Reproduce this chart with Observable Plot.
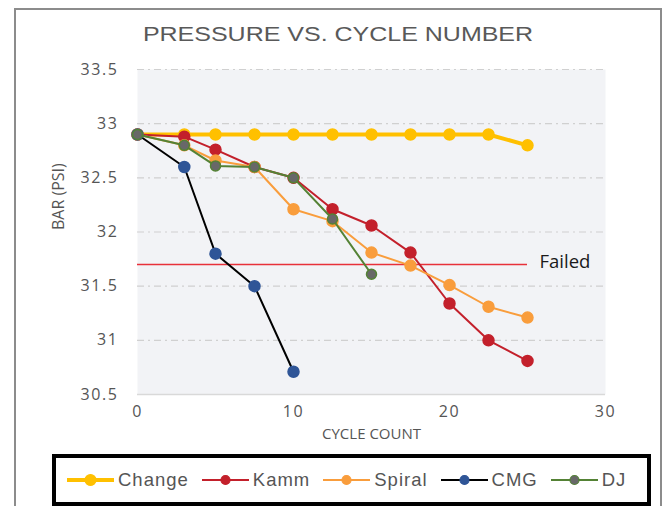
<!DOCTYPE html>
<html><head><meta charset="utf-8">
<script src="https://cdn.jsdelivr.net/npm/d3@7"></script>
<script src="https://cdn.jsdelivr.net/npm/@observablehq/plot@0.6"></script>
<style>
html,body{margin:0;padding:0;background:#fff;}
body{width:665px;height:506px;overflow:hidden;position:relative;font-family:"Liberation Sans",Arial,sans-serif;}
#frame{position:absolute;left:14px;top:8px;width:644px;height:530px;border:2px solid #8c8c8c;box-sizing:content-box;}
#title{position:absolute;left:0;width:676px;top:22px;text-align:center;font-size:21px;color:#595959;transform:scaleX(1.19);transform-origin:338px 0;white-space:nowrap;}
#chart{position:absolute;left:0;top:0;}
#legend{position:absolute;left:52px;top:454px;width:580px;height:44px;border:4px solid #000;background:#fff;display:flex;align-items:center;padding-left:11px;box-sizing:content-box;}
.item{display:flex;align-items:center;margin-right:13px;}
.item span{font-size:18.5px;letter-spacing:1px;color:#555;margin-left:4px;}
g[aria-label="y-axis tick label"] text, g[aria-label="x-axis tick label"] text{letter-spacing:1.6px;}
g[aria-label="xlabel"] text{letter-spacing:2.4px;}
g[aria-label="ylabel"] text{letter-spacing:1px;}
g[aria-label="failed label"] text{letter-spacing:2.4px;}
</style>
</head><body>
<div id="frame"></div>
<div id="chart"></div>
<div id="title">PRESSURE VS. CYCLE NUMBER</div>
<div id="legend"></div>
<script>
const titleText = "PRESSURE VS. CYCLE NUMBER";
const xLabel = "CYCLE COUNT";
const yLabel = "BAR (PSI)";
const cycles = [0, 3, 5, 7.5, 10, 12.5, 15, 17.5, 20, 22.5, 25];
const change = [32.9, 32.9, 32.9, 32.9, 32.9, 32.9, 32.9, 32.9, 32.9, 32.9, 32.8];
const kamm   = [32.9, 32.88, 32.76, 32.6, 32.5, 32.21, 32.06, 31.81, 31.34, 31.0, 30.81];
const spiral = [32.9, 32.8, 32.66, 32.6, 32.21, 32.1, 31.81, 31.69, 31.51, 31.31, 31.21];
const cmg    = [32.9, 32.6, 31.8, 31.5, 30.71];
const dj     = [32.9, 32.8, 32.61, 32.6, 32.5, 32.12, 31.61];
const seriesNames = ["Change", "Kamm", "Spiral", "CMG", "DJ"];
const seriesValues = [change, kamm, spiral, cmg, dj];
const xTicks = [0, 10, 20, 30];
const yTicks = [30.5, 31, 31.5, 32, 32.5, 33, 33.5];
const failedLevel = [31.7];
const failedEnd = 25;
const failedText = "Failed";

const styles = {
  Change: {line: "#ffc000", width: 4,   fill: "#ffc000", stroke: "#ffc000", r: 5.5},
  Kamm:   {line: "#c3202b", width: 2,   fill: "#c3202b", stroke: "#c3202b", r: 5.5},
  Spiral: {line: "#f99d3c", width: 2,   fill: "#f99d3c", stroke: "#f99d3c", r: 5.5},
  CMG:    {line: "#000000", width: 2,   fill: "#2f5597", stroke: "#2f5597", r: 5.5},
  DJ:     {line: "#548235", width: 2,   fill: "#686868", stroke: "#548235", r: 5}
};

const rows = seriesNames.map((name, k) =>
  seriesValues[k].map((v, i) => ({series: name, x: cycles[i], y: v})));

const marks = [
  Plot.frame({fill: "#f2f3f6", stroke: "none"}),
  Plot.ruleY(yTicks.filter(d => d > 30.5), {stroke: "#d0d0d0", strokeWidth: 1.2, strokeDasharray: "7,4,2,4"}),
  Plot.ruleY([yTicks[0]], {stroke: "#d9d9d9", strokeWidth: 1.5}),
  Plot.axisY({ticks: yTicks, tickSize: 0, tickPadding: 19, tickFormat: d => String(d), label: null, fill: "#555", fontSize: 16}),
  Plot.axisX({ticks: xTicks, tickSize: 0, tickPadding: 11, tickFormat: d => String(d), label: null, fill: "#555", fontSize: 16}),
  Plot.text([xLabel], {frameAnchor: "bottom", dy: 44, fontSize: 15, fill: "#555", ariaLabel: "xlabel"}),
  Plot.text([yLabel], {frameAnchor: "left", dx: -79, dy: -2, rotate: -90, fontSize: 16, fill: "#555", ariaLabel: "ylabel"}),
  Plot.ruleY(failedLevel, {x1: 0, x2: failedEnd, stroke: "#e8303a", strokeWidth: 1.6}),
  Plot.text(failedLevel, {x: failedEnd, y: d => d, text: () => failedText, dx: 12, dy: -2, textAnchor: "start", fontSize: 18.5, fill: "#1a1a1a", ariaLabel: "failed label"})
];
rows.forEach(data => {
  const s = styles[data[0].series];
  marks.push(Plot.line(data, {x: "x", y: "y", stroke: s.line, strokeWidth: s.width}));
  marks.push(Plot.dot(data, {x: "x", y: "y", r: s.r, fill: s.fill, stroke: s.stroke, strokeWidth: 1.5}));
});

const chart = Plot.plot({
  width: 665, height: 450,
  marginLeft: 137, marginRight: 60, marginTop: 69, marginBottom: 56,
  x: {domain: [0, 30]},
  y: {domain: [30.5, 33.5]},
  style: {fontFamily: "'Open Sans', sans-serif", fontSize: "16px", background: "transparent", color: "#555"},
  marks
});
document.getElementById("chart").appendChild(chart);
document.getElementById("title").textContent = titleText;

const legend = document.getElementById("legend");
seriesNames.forEach(name => {
  const s = styles[name];
  const item = document.createElement("div");
  item.className = "item";
  item.innerHTML = `<svg width="47" height="14"><line x1="0" y1="7" x2="47" y2="7" stroke="${s.line}" stroke-width="${name === "Change" ? 4 : 2}"/><circle cx="23.5" cy="7" r="${name === "Change" ? 5.5 : 4.5}" fill="${s.fill}" stroke="${s.stroke}" stroke-width="1.2"/></svg><span>${name}</span>`;
  legend.appendChild(item);
});
</script>
</body></html>
